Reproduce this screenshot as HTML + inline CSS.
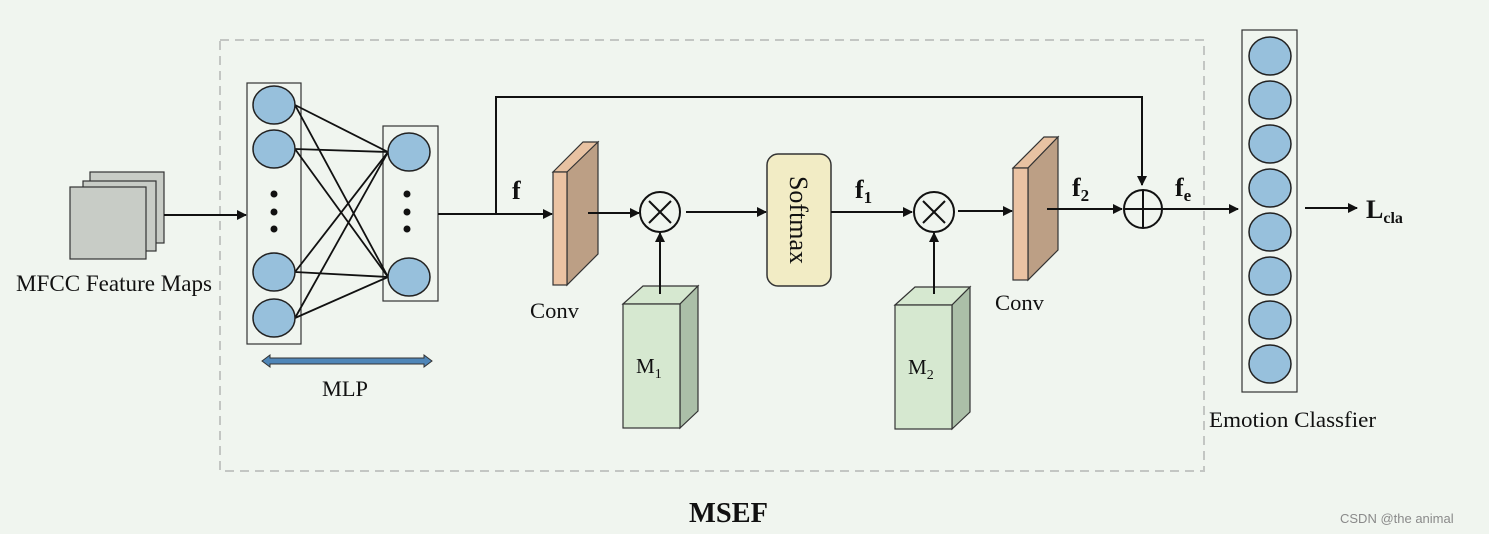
<!DOCTYPE html>
<html><head><meta charset="utf-8"><style>
html,body{margin:0;padding:0;background:#f0f5ef;}
svg{display:block;}
text{font-family:"Liberation Serif",serif;fill:#111;}
</style></head><body>
<svg width="1489" height="534" viewBox="0 0 1489 534" xmlns="http://www.w3.org/2000/svg">
<defs>
<marker id="a" markerWidth="10" markerHeight="10" refX="9" refY="5" orient="auto" markerUnits="userSpaceOnUse">
<path d="M0,0 L10,5 L0,10 z" fill="#111"/></marker>
</defs>
<rect x="0" y="0" width="1489" height="534" fill="#f0f5ef"/>
<rect x="220" y="40" width="984" height="431" fill="none" stroke="#c3c6c3" stroke-width="2" stroke-dasharray="9,6"/>
<!-- feature maps -->
<rect x="90" y="172" width="74" height="71" fill="#c8ccc6" stroke="#333" stroke-width="1.2"/>
<rect x="83" y="181" width="73" height="70" fill="#c8ccc6" stroke="#333" stroke-width="1.2"/>
<rect x="70" y="187" width="76" height="72" fill="#c8ccc6" stroke="#333" stroke-width="1.2"/>
<line x1="164" y1="215" x2="246" y2="215" stroke="#111" stroke-width="2" marker-end="url(#a)"/>
<text x="16" y="291" font-size="23" textLength="196" lengthAdjust="spacingAndGlyphs">MFCC Feature Maps</text>
<!-- MLP -->
<rect x="247" y="83" width="54" height="261" fill="none" stroke="#333" stroke-width="1.2"/>
<rect x="383" y="126" width="55" height="175" fill="none" stroke="#333" stroke-width="1.2"/>
<g stroke="#111" stroke-width="1.8">
<line x1="295" y1="105" x2="388" y2="152"/><line x1="295" y1="105" x2="388" y2="277"/>
<line x1="295" y1="149" x2="388" y2="152"/><line x1="295" y1="149" x2="388" y2="277"/>
<line x1="295" y1="272" x2="388" y2="152"/><line x1="295" y1="272" x2="388" y2="277"/>
<line x1="295" y1="318" x2="388" y2="152"/><line x1="295" y1="318" x2="388" y2="277"/>
</g>
<g fill="#97c0dc" stroke="#222" stroke-width="1.5">
<ellipse cx="274" cy="105" rx="21" ry="19"/><ellipse cx="274" cy="149" rx="21" ry="19"/>
<ellipse cx="274" cy="272" rx="21" ry="19"/><ellipse cx="274" cy="318" rx="21" ry="19"/>
<ellipse cx="409" cy="152" rx="21" ry="19"/><ellipse cx="409" cy="277" rx="21" ry="19"/>
</g>
<g fill="#111">
<circle cx="274" cy="194" r="3.5"/><circle cx="274" cy="212" r="3.5"/><circle cx="274" cy="229" r="3.5"/>
<circle cx="407" cy="194" r="3.5"/><circle cx="407" cy="212" r="3.5"/><circle cx="407" cy="229" r="3.5"/>
</g>
<path d="M262,361 L270,355 L270,358 L424,358 L424,355 L432,361 L424,367 L424,364 L270,364 L270,367 z" fill="#4f86b8" stroke="#333" stroke-width="1"/>
<text x="322" y="396" font-size="22" textLength="46" lengthAdjust="spacingAndGlyphs">MLP</text>
<!-- main line -->
<line x1="438" y1="214" x2="552" y2="214" stroke="#111" stroke-width="2" marker-end="url(#a)"/>
<polyline points="496,214 496,97 1142,97 1142,185" fill="none" stroke="#111" stroke-width="2" marker-end="url(#a)"/>
<text x="512" y="199" font-size="26" font-weight="bold">f</text>
<!-- conv1 -->
<polygon points="553,172 583,142 598,142 568,172" fill="#e8c2a2" stroke="#333" stroke-width="1.2"/>
<polygon points="567,172 598,142 598,254 567,285" fill="#bc9f85" stroke="#333" stroke-width="1.2"/>
<rect x="553" y="172" width="14" height="113" fill="#ebc3a3" stroke="#333" stroke-width="1.2"/>
<text x="530" y="318" font-size="22" textLength="49" lengthAdjust="spacingAndGlyphs">Conv</text>
<line x1="588" y1="213" x2="639" y2="213" stroke="#111" stroke-width="2" marker-end="url(#a)"/>
<!-- otimes 1 -->
<circle cx="660" cy="212" r="20" fill="none" stroke="#111" stroke-width="2"/>
<line x1="649" y1="201" x2="671" y2="223" stroke="#111" stroke-width="2"/><line x1="671" y1="201" x2="649" y2="223" stroke="#111" stroke-width="2"/>
<!-- M1 -->
<polygon points="623,304 643,286 698,286 680,304" fill="#d6e8d0" stroke="#333" stroke-width="1.2"/>
<polygon points="680,304 698,286 698,411 680,428" fill="#abbfa8" stroke="#333" stroke-width="1.2"/>
<rect x="623" y="304" width="57" height="124" fill="#d6e8d0" stroke="#333" stroke-width="1.2"/>
<text x="636" y="373" font-size="21">M<tspan font-size="14" dy="5">1</tspan></text>
<line x1="660" y1="294" x2="660" y2="233" stroke="#111" stroke-width="2" marker-end="url(#a)"/>
<line x1="686" y1="212" x2="766" y2="212" stroke="#111" stroke-width="2" marker-end="url(#a)"/>
<!-- softmax -->
<rect x="767" y="154" width="64" height="132" rx="11" fill="#f2ecc5" stroke="#333" stroke-width="1.5"/>
<text transform="translate(790,220) rotate(90)" font-size="26" text-anchor="middle">Softmax</text>
<line x1="831" y1="212" x2="912" y2="212" stroke="#111" stroke-width="2" marker-end="url(#a)"/>
<text x="855" y="198" font-size="26" font-weight="bold">f<tspan font-size="17" dy="5">1</tspan></text>
<!-- otimes 2 -->
<circle cx="934" cy="212" r="20" fill="none" stroke="#111" stroke-width="2"/>
<line x1="923" y1="201" x2="945" y2="223" stroke="#111" stroke-width="2"/><line x1="945" y1="201" x2="923" y2="223" stroke="#111" stroke-width="2"/>
<!-- M2 -->
<polygon points="895,305 915,287 970,287 952,305" fill="#d6e8d0" stroke="#333" stroke-width="1.2"/>
<polygon points="952,305 970,287 970,412 952,429" fill="#abbfa8" stroke="#333" stroke-width="1.2"/>
<rect x="895" y="305" width="57" height="124" fill="#d6e8d0" stroke="#333" stroke-width="1.2"/>
<text x="908" y="374" font-size="21">M<tspan font-size="14" dy="5">2</tspan></text>
<line x1="934" y1="294" x2="934" y2="233" stroke="#111" stroke-width="2" marker-end="url(#a)"/>
<line x1="958" y1="211" x2="1012" y2="211" stroke="#111" stroke-width="2" marker-end="url(#a)"/>
<!-- conv2 -->
<polygon points="1013,168 1044,137 1058,137 1028,168" fill="#e8c2a2" stroke="#333" stroke-width="1.2"/>
<polygon points="1028,168 1058,137 1058,250 1028,280" fill="#bc9f85" stroke="#333" stroke-width="1.2"/>
<rect x="1013" y="168" width="15" height="112" fill="#ebc3a3" stroke="#333" stroke-width="1.2"/>
<text x="995" y="310" font-size="22" textLength="49" lengthAdjust="spacingAndGlyphs">Conv</text>
<line x1="1047" y1="209" x2="1122" y2="209" stroke="#111" stroke-width="2" marker-end="url(#a)"/>
<text x="1072" y="196" font-size="26" font-weight="bold">f<tspan font-size="17" dy="5">2</tspan></text>
<!-- oplus -->
<circle cx="1143" cy="209" r="19" fill="none" stroke="#111" stroke-width="2"/>
<line x1="1124" y1="209" x2="1162" y2="209" stroke="#111" stroke-width="2"/><line x1="1143" y1="190" x2="1143" y2="228" stroke="#111" stroke-width="2"/>
<text x="1175" y="196" font-size="26" font-weight="bold">f<tspan font-size="17" dy="5">e</tspan></text>
<line x1="1162" y1="209" x2="1238" y2="209" stroke="#111" stroke-width="2" marker-end="url(#a)"/>
<!-- classifier -->
<rect x="1242" y="30" width="55" height="362" fill="none" stroke="#333" stroke-width="1.2"/>
<g fill="#97c0dc" stroke="#222" stroke-width="1.5">
<ellipse cx="1270" cy="56" rx="21" ry="19"/><ellipse cx="1270" cy="100" rx="21" ry="19"/>
<ellipse cx="1270" cy="144" rx="21" ry="19"/><ellipse cx="1270" cy="188" rx="21" ry="19"/>
<ellipse cx="1270" cy="232" rx="21" ry="19"/><ellipse cx="1270" cy="276" rx="21" ry="19"/>
<ellipse cx="1270" cy="320" rx="21" ry="19"/><ellipse cx="1270" cy="364" rx="21" ry="19"/>
</g>
<line x1="1305" y1="208" x2="1357" y2="208" stroke="#111" stroke-width="2" marker-end="url(#a)"/>
<text x="1366" y="218" font-size="26" font-weight="bold">L<tspan font-size="16" dy="5">cla</tspan></text>
<text x="1209" y="427" font-size="22" textLength="167" lengthAdjust="spacingAndGlyphs">Emotion Classfier</text>
<text x="689" y="522" font-size="28" font-weight="bold" textLength="79" lengthAdjust="spacingAndGlyphs">MSEF</text>
<text x="1340" y="523" font-size="13" style="font-family:'Liberation Sans',sans-serif;fill:#8a8a8a">CSDN @the animal</text>
</svg>
</body></html>
